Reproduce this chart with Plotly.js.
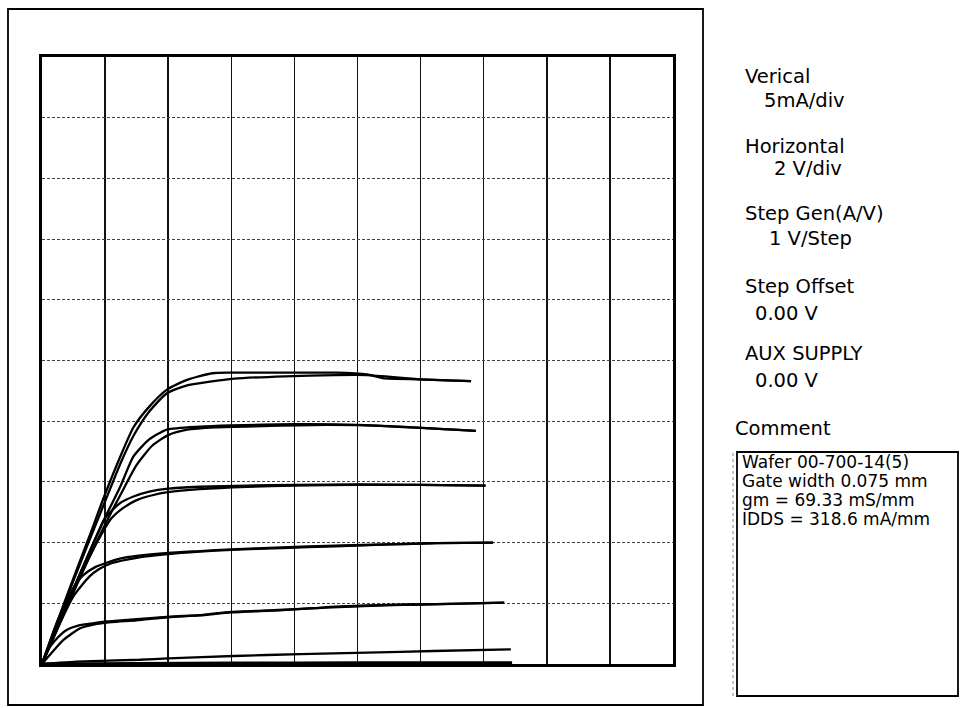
<!DOCTYPE html>
<html>
<head>
<meta charset="utf-8">
<script src="https://cdn.plot.ly/plotly-3.0.1.min.js"></script>
<style>html,body{margin:0;padding:0;background:#fff;}#chart{width:965px;height:708px;}</style>
</head>
<body>
<div id="chart"></div>
<script>
// Drain voltage (V) and drain current (mA) for each gate step; two sweeps per step
const c1aV = [0, 0.5, 1.0, 1.5, 1.97, 2.5, 2.9, 3.4, 3.96, 4.6, 5.4, 6.0, 8.0, 9.3, 10.3, 10.8, 12.0, 13.6];
const c1aI = [0, 3.6, 7.1, 10.5, 13.8, 17.2, 19.5, 21.2, 22.6, 23.4, 23.95, 24.0, 24.0, 24.0, 23.85, 23.55, 23.45, 23.3];
const c1bV = [0, 1.0, 2.0, 2.5, 2.9, 3.4, 3.96, 4.6, 6.1, 7.7, 9.3, 10.3, 12.0, 13.6];
const c1bI = [0, 6.9, 13.4, 16.6, 18.8, 20.8, 22.3, 22.95, 23.5, 23.7, 23.8, 23.8, 23.45, 23.3];

const c2aV = [0, 1.0, 1.97, 2.48, 2.9, 3.4, 3.96, 5.0, 6.0, 8.0, 10.0, 12.0, 13.75];
const c2aI = [0, 6.2, 11.9, 14.6, 17.1, 18.5, 19.3, 19.55, 19.65, 19.75, 19.7, 19.45, 19.2];
const c2bV = [0, 1.0, 2.0, 2.5, 3.0, 3.5, 4.0, 4.6, 5.5, 7.0, 9.0, 11.0, 13.75];
const c2bI = [0, 6.0, 11.5, 14.0, 16.4, 18.0, 18.85, 19.3, 19.5, 19.6, 19.7, 19.6, 19.2];

const c3aV = [0, 1.0, 1.5, 1.97, 2.2, 2.5, 2.9, 3.4, 4.0, 5.0, 6.5, 8.0, 10.0, 12.0, 14.06];
const c3aI = [0, 6.2, 9.2, 11.9, 12.6, 13.3, 13.8, 14.2, 14.45, 14.6, 14.7, 14.75, 14.8, 14.75, 14.7];
const c3bV = [0, 1.0, 1.5, 2.0, 2.2, 2.6, 3.0, 3.5, 4.0, 5.0, 6.5, 8.0, 10.0, 12.0, 14.06];
const c3bI = [0, 5.9, 8.8, 11.2, 12.0, 12.9, 13.5, 13.9, 14.15, 14.4, 14.6, 14.7, 14.75, 14.75, 14.7];

const c4aV = [0, 0.5, 1.0, 1.3, 1.7, 2.0, 2.5, 3.0, 4.0, 5.0, 6.0, 7.6, 9.3, 11.0, 12.5, 14.3];
const c4aI = [0, 3.6, 6.3, 7.3, 8.0, 8.3, 8.7, 8.9, 9.15, 9.3, 9.45, 9.6, 9.75, 9.85, 9.95, 10.0];
const c4bV = [0, 0.5, 1.0, 1.5, 1.8, 2.2, 3.0, 4.0, 5.0, 6.0, 7.6, 9.3, 11.0, 12.5, 14.3];
const c4bI = [0, 3.0, 5.6, 7.2, 7.8, 8.3, 8.75, 9.05, 9.25, 9.4, 9.55, 9.7, 9.85, 9.95, 10.0];

const c5aV = [0, 0.15, 0.4, 0.78, 1.2, 1.74, 2.05, 2.8, 4.06, 5.1, 6.0, 7.5, 8.6, 9.3, 10.9, 12.5, 14.65];
const c5aI = [0, 1.0, 1.9, 2.8, 3.2, 3.4, 3.5, 3.65, 3.9, 4.05, 4.3, 4.45, 4.6, 4.72, 4.86, 4.94, 5.05];
const c5bV = [0, 0.3, 0.68, 1.21, 1.74, 2.2, 3.0, 4.0, 5.0, 6.0, 7.5, 9.0, 11.0, 13.0, 14.65];
const c5bI = [0, 0.9, 1.98, 2.94, 3.3, 3.45, 3.6, 3.85, 4.0, 4.25, 4.42, 4.65, 4.85, 4.95, 5.05];

const c6V = [0, 0.5, 1.1, 3.1, 4.0, 6.07, 8.19, 10.3, 12.4, 14.86];
const c6I = [0, 0.1, 0.2, 0.35, 0.47, 0.66, 0.82, 0.93, 1.07, 1.21];

const c7V = [0, 3.0, 6.0, 10.0, 14.9];
const c7I = [0, 0.05, 0.08, 0.1, 0.1];

const settingsLabels = ["Verical", "5mA/div", "Horizontal", "2 V/div", "Step Gen(A/V)", "1 V/Step", "Step Offset", "0.00 V", "AUX SUPPLY", "0.00 V", "Comment"];
const commentLines = ["Wafer 00-700-14(5)", "Gate width 0.075 mm", "gm = 69.33 mS/mm", "IDDS = 318.6 mA/mm"];

// layout helpers (pixel -> paper)
const L = 42, T = 57, R = 673, B = 664;
const PW = R - L, PH = B - T;
const px = x => (x - L) / PW;
const py = y => (B - y) / PH;

const pairs = [[c1aV,c1aI],[c1bV,c1bI],[c2aV,c2aI],[c2bV,c2bI],[c3aV,c3aI],[c3bV,c3bI],
               [c4aV,c4aI],[c4bV,c4bI],[c5aV,c5aI],[c5bV,c5bI],[c6V,c6I],[c7V,c7I]];
const traces = pairs.map((p, i) => ({
  x: p[0], y: p[1], type: 'scatter', mode: 'lines',
  line: {color: '#000', width: i === 11 ? 3 : 2.3, shape: 'spline', smoothing: 0.6},
  hoverinfo: 'skip', showlegend: false
}));

const labelPos = [[743,76],[762,101],[743,146],[772,168],[743,213],[767,238],[743,286],[753,313],[743,353],[753,380],[733,428]];
const commentPos = [[740,462],[740,481],[740,500],[740,519]];
const fontL = {family: 'DejaVu Sans, Liberation Sans, sans-serif', size: 19.5, color: '#000'};
const fontC = {family: 'DejaVu Sans, Liberation Sans, sans-serif', size: 17, color: '#000'};
const annotations = [];
settingsLabels.forEach((t, i) => annotations.push({
  text: t, xref: 'paper', yref: 'paper', x: px(labelPos[i][0]), y: py(labelPos[i][1]),
  xanchor: 'left', yanchor: 'middle', showarrow: false, font: fontL
}));
commentLines.forEach((t, i) => annotations.push({
  text: t, xref: 'paper', yref: 'paper', x: px(commentPos[i][0]), y: py(commentPos[i][1]),
  xanchor: 'left', yanchor: 'middle', showarrow: false, font: fontC
}));

const shapes = [
  {type: 'rect', xref: 'paper', yref: 'paper', x0: px(8), x1: px(703), y0: py(705), y1: py(9),
   line: {color: '#000', width: 1.8}, layer: 'above'},
  {type: 'rect', xref: 'paper', yref: 'paper', x0: px(737), x1: px(958), y0: py(696), y1: py(452),
   line: {color: '#000', width: 1.8}, layer: 'above'},
  {type: 'line', xref: 'paper', yref: 'paper', x0: px(733), x1: px(733), y0: py(696), y1: py(452),
   line: {color: '#888', width: 1, dash: 'dot'}}
];

const layout = {
  width: 965, height: 708,
  margin: {l: L, r: 965 - R, t: T, b: 708 - B, pad: 0},
  paper_bgcolor: '#fff', plot_bgcolor: '#fff',
  xaxis: {range: [0, 20], dtick: 2, tick0: 0, showticklabels: false, ticks: '',
          showgrid: true, gridcolor: '#111', gridwidth: 1.5, zeroline: false,
          showline: true, linecolor: '#000', linewidth: 3, mirror: true, fixedrange: true},
  yaxis: {range: [0, 50], dtick: 5, tick0: 0, showticklabels: false, ticks: '',
          showgrid: true, gridcolor: '#444', gridwidth: 1, griddash: '3px,2px', zeroline: false,
          showline: true, linecolor: '#000', linewidth: 3, mirror: true, fixedrange: true},
  annotations: annotations,
  shapes: shapes,
  showlegend: false
};

Plotly.newPlot('chart', traces, layout, {displayModeBar: false, staticPlot: true});
</script>
</body>
</html>
